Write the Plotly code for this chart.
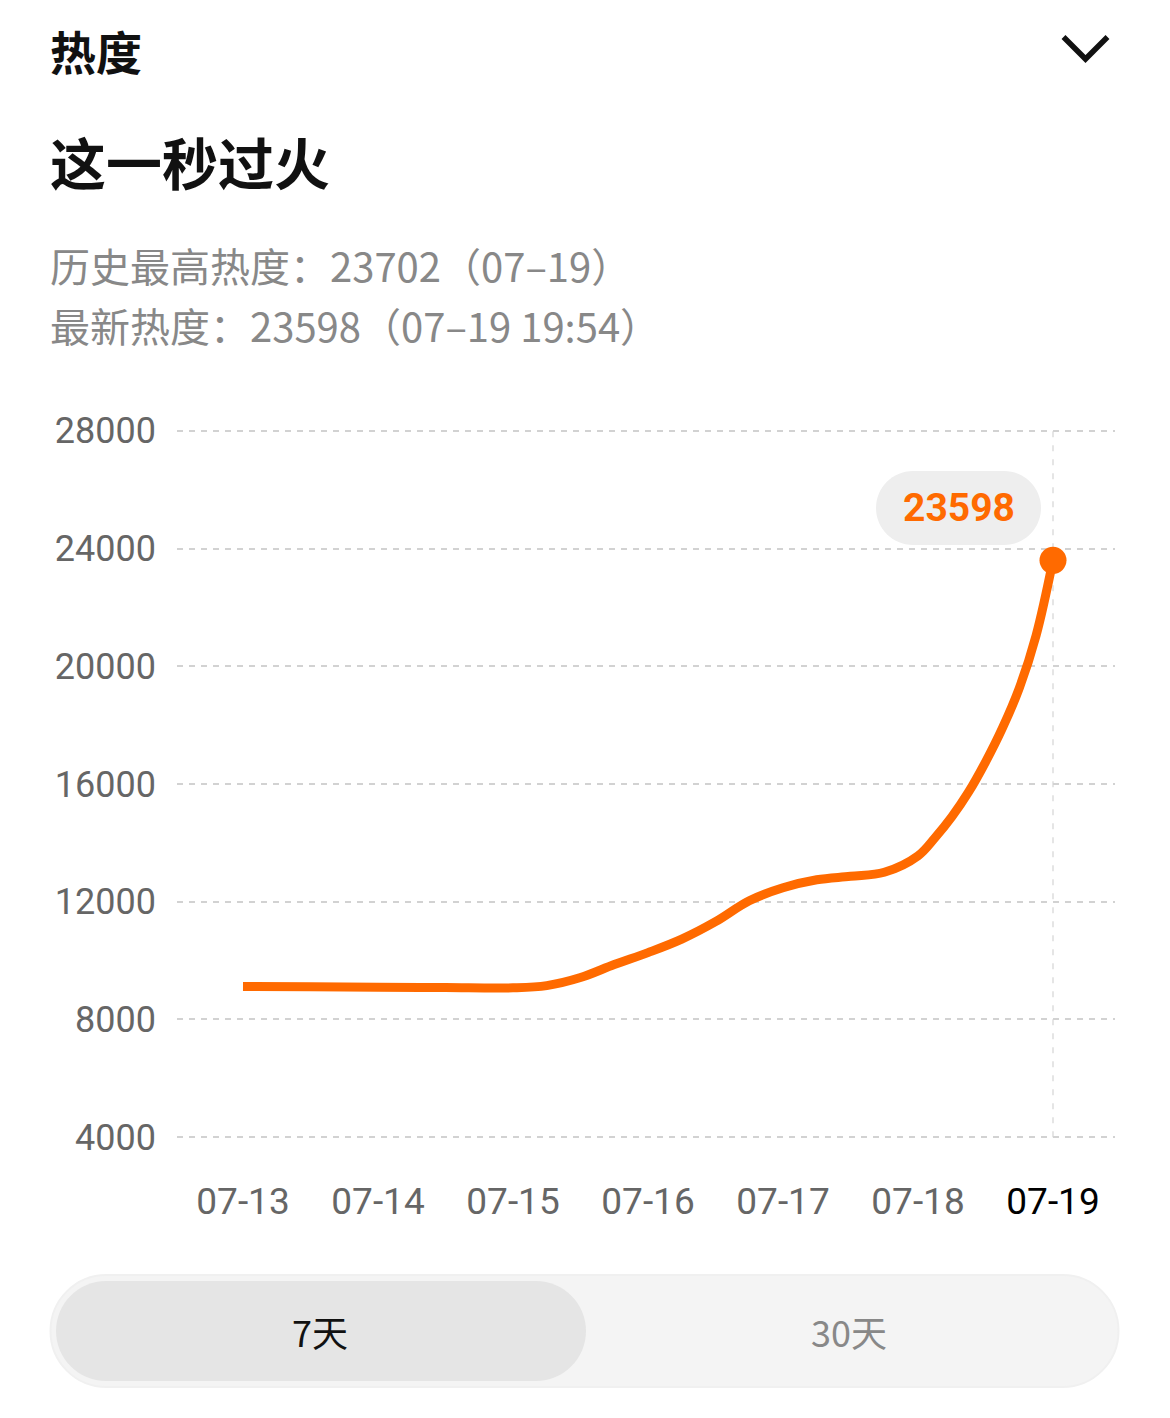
import plotly.graph_objects as go

# ---------------- data ----------------
day_labels = ["07-13", "07-14", "07-15", "07-16", "07-17", "07-18", "07-19"]
# sample positions in days since 07-13 (readings from the curve)
sample_days = [0, 0.5, 1, 1.5, 2, 2.25, 2.5, 2.75, 3, 3.25, 3.5, 3.75, 4,
               4.25, 4.5, 4.75, 5, 5.125, 5.25, 5.375, 5.5, 5.625, 5.75,
               5.875, 6]
heat_values = [9119, 9110, 9095, 9085, 9075, 9150, 9424, 9865, 10272, 10730,
               11322, 12034, 12475, 12746, 12865, 13000, 13559, 14169, 14881,
               15729, 16746, 17898, 19254, 21051, 23598]
y_ticks = [4000, 8000, 12000, 16000, 20000, 24000, 28000]
latest_value = 23598
title_small = "热度"
title_big = "这一秒过火"
info_line1 = "历史最高热度：23702（07–19）"
info_line2 = "最新热度：23598（07–19 19:54）"
btn_labels = ["7天", "30天"]

# ---------------- layout geometry ----------------
W, H = 1170, 1418
ML, MR, MT, MB = 177, 55, 428, 278
PW = W - ML - MR
PH = H - MT - MB
DAY_PX = 135.0
X0_PX = 243.0
Y_PAD = 95  # data units of padding so the edge gridlines are drawn


def px(xp):
    return (xp - ML) / PW


def py(yp):
    return (H - MB - yp) / PH


xr0 = (ML - X0_PX) / DAY_PX
xr1 = (W - MR - X0_PX) / DAY_PX

ORANGE = "#FF6A00"
CJK = "Noto Sans CJK SC"
NUMF = "Roboto"

fig = go.Figure()
fig.add_trace(go.Scatter(
    x=sample_days, y=heat_values, mode="lines",
    line=dict(color=ORANGE, width=9, shape="spline", smoothing=1.0),
    hoverinfo="skip", showlegend=False,
))
fig.add_trace(go.Scatter(
    x=[sample_days[-1]], y=[heat_values[-1]], mode="markers",
    marker=dict(color=ORANGE, size=27), hoverinfo="skip", showlegend=False,
))

ticktext = [f'<span style="color:#666666">{d}</span>' for d in day_labels[:-1]]
ticktext.append(f'<span style="color:#000000">{day_labels[-1]}</span>')


def pill(w, h):
    r = h / 2.0
    k = 0.5523 * r
    x1, x2 = -w / 2 + r, w / 2 - r
    return (f"M {x1},{-r} L {x2},{-r} "
            f"C {x2 + k},{-r} {w/2},{-k} {w/2},0 "
            f"C {w/2},{k} {x2 + k},{r} {x2},{r} "
            f"L {x1},{r} "
            f"C {x1 - k},{r} {-w/2},{k} {-w/2},0 "
            f"C {-w/2},{-k} {x1 - k},{-r} {x1},{-r} Z")


shapes = []
# vertical dashed line at last day
shapes.append(dict(type="line", xref="x", yref="y", x0=6, x1=6,
                   y0=y_ticks[0], y1=y_ticks[-1],
                   line=dict(color="#d4d4d4", width=1.2, dash="6px,8px"),
                   layer="below"))
# value bubble
shapes.append(dict(type="path", xref="paper", yref="paper",
                   xsizemode="pixel", ysizemode="pixel",
                   xanchor=px(958.5), yanchor=py(508),
                   path=pill(165, 74), fillcolor="#eeeeee",
                   line=dict(width=0), layer="below"))
# bottom toggle (outer)
shapes.append(dict(type="path", xref="paper", yref="paper",
                   xsizemode="pixel", ysizemode="pixel",
                   xanchor=px(584.5), yanchor=py(1331),
                   path=pill(1068, 112), fillcolor="#f4f4f4",
                   line=dict(color="#f0f0f0", width=2)))
# bottom toggle (selected)
shapes.append(dict(type="path", xref="paper", yref="paper",
                   xsizemode="pixel", ysizemode="pixel",
                   xanchor=px(321), yanchor=py(1331),
                   path=pill(530, 100), fillcolor="#e5e5e5",
                   line=dict(width=0)))
# chevron
shapes.append(dict(type="path", xref="paper", yref="paper",
                   xsizemode="pixel", ysizemode="pixel",
                   xanchor=px(1085.5), yanchor=py(48),
                   path="M -22,11 L 0,-11 L 22,11",
                   line=dict(color="#111111", width=5.5)))

annotations = [
    dict(x=px(48), y=py(50), text=f"<b>{title_small}</b>", showarrow=False,
         xanchor="left", yanchor="middle", xref="paper", yref="paper",
         font=dict(family=CJK, size=46, color="#111111")),
    dict(x=px(48), y=py(160), text=f"<b>{title_big}</b>", showarrow=False,
         xanchor="left", yanchor="middle", xref="paper", yref="paper",
         font=dict(family=CJK, size=56, color="#111111")),
    dict(x=px(48), y=py(265), text=info_line1, showarrow=False,
         xanchor="left", yanchor="middle", xref="paper", yref="paper",
         font=dict(family=CJK, size=40, color="#888888")),
    dict(x=px(48), y=py(325), text=info_line2, showarrow=False,
         xanchor="left", yanchor="middle", xref="paper", yref="paper",
         font=dict(family=CJK, size=40, color="#888888")),
    dict(x=px(958.5), y=py(508), text=f"<b>{latest_value}</b>", showarrow=False,
         xanchor="center", yanchor="middle", xref="paper", yref="paper",
         font=dict(family=NUMF, size=39, color=ORANGE)),
    dict(x=px(320), y=py(1331), text=btn_labels[0], showarrow=False,
         xanchor="center", yanchor="middle", xref="paper", yref="paper",
         font=dict(family=CJK, size=36, color="#111111")),
    dict(x=px(849), y=py(1331), text=btn_labels[1], showarrow=False,
         xanchor="center", yanchor="middle", xref="paper", yref="paper",
         font=dict(family=CJK, size=36, color="#888888")),
]

fig.update_layout(
    width=W, height=H,
    margin=dict(l=ML, r=MR, t=MT, b=MB, pad=0),
    paper_bgcolor="white", plot_bgcolor="white",
    showlegend=False,
    shapes=shapes, annotations=annotations,
    xaxis=dict(range=[xr0, xr1], tickmode="array",
               tickvals=list(range(len(day_labels))), ticktext=ticktext,
               showgrid=False, zeroline=False, showline=False, ticks="",
               ticklabelstandoff=36,
               tickfont=dict(family=NUMF, size=37, color="#666666"),
               fixedrange=True),
    yaxis=dict(range=[y_ticks[0] - Y_PAD, y_ticks[-1] + Y_PAD],
               tickmode="array",
               tickvals=y_ticks, ticktext=[str(v) for v in y_ticks],
               showgrid=True, gridcolor="#d2d2d2", gridwidth=2,
               griddash="6px,6px", zeroline=False, showline=False, ticks="",
               ticklabelstandoff=20,
               tickfont=dict(family=NUMF, size=36, color="#666666"),
               fixedrange=True),
)

fig.write_html("out.html", config={"displayModeBar": False})
